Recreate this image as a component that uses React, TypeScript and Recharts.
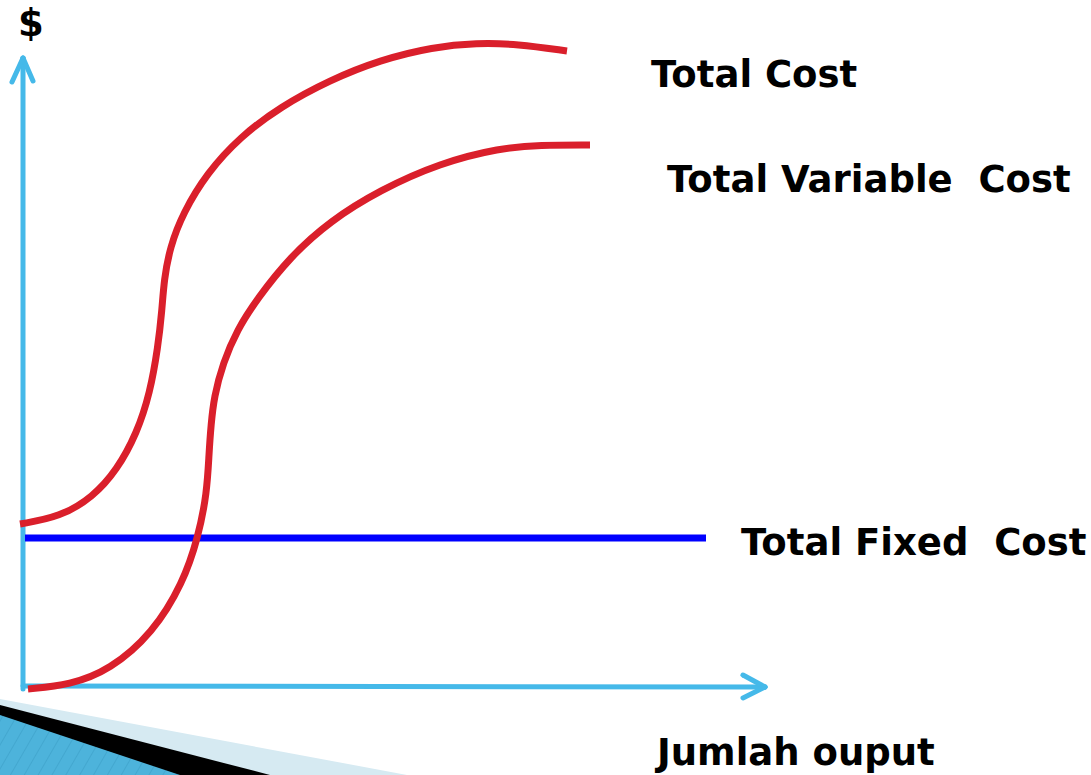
import { LineChart, Line, XAxis, YAxis, ReferenceLine, Customized } from "recharts";

// output (x) and cost ($)
const tcOutput = [-0.3, 3.7, 7.0, 9.4, 11.4, 12.7, 13.5, 13.9, 14.1, 14.7, 16.0, 18.4, 21.7, 25.7, 30.7, 35.7, 41.0, 45.4, 49.4, 54.4];
const tcCost = [16.2, 16.9, 18.9, 21.6, 25.3, 29.3, 33.9, 37.6, 40.6, 43.9, 47.3, 51.3, 54.9, 57.9, 60.6, 62.6, 63.9, 64.3, 64.2, 63.5];

const tvcOutput = [0.5, 4.7, 8.7, 13.0, 16.0, 17.5, 18.4, 18.6, 18.8, 19.1, 20.0, 21.4, 23.4, 26.7, 30.7, 35.7, 41.7, 47.7, 51.7, 56.7];
const tvcCost = [-0.3, 0.1, 1.6, 5.3, 10.3, 14.8, 19.3, 23.3, 26.1, 28.9, 32.3, 35.6, 38.7, 42.9, 46.5, 49.6, 52.3, 53.8, 54.1, 54.1];

const tfcOutput = [0.2, 68.3];
const tfcCost = [14.8, 14.8];

const labels = ["$", "Total Cost", "Total Variable  Cost", "Total Fixed  Cost", "Jumlah ouput"];

const tcData = tcOutput.map((q, i) => ({ q, c: tcCost[i] }));
const tvcData = tvcOutput.map((q, i) => ({ q, c: tvcCost[i] }));
const tfcData = tfcOutput.map((q, i) => ({ q, c: tfcCost[i] }));

const AXIS = "#45B9E9";
const RED = "#DA1F2B";
const FONT = "'DejaVu Sans', Verdana, sans-serif";

function Decor() {
  return (
    <g>
      <defs>
        <pattern id="stripes" width="12" height="12" patternUnits="userSpaceOnUse" patternTransform="rotate(30)">
          <rect width="12" height="12" fill="#4DB3DB" />
          <line x1="0" y1="0" x2="0" y2="12" stroke="#3FA3CB" strokeWidth="1.5" />
        </pattern>
      </defs>
      <polygon points="0,699 407,775 0,775" fill="#D6EAF2" />
      <polygon points="0,705 270,775 0,775" fill="#000" />
      <polygon points="0,715 180,775 0,775" fill="url(#stripes)" />
    </g>
  );
}

function Labels() {
  const pos = [
    [18, 36],
    [651, 87],
    [667, 192],
    [741, 555],
    [657, 765],
  ];
  return (
    <g>
      {labels.map((t, i) => (
        <text
          key={t}
          x={pos[i][0]}
          y={pos[i][1]}
          fontFamily={FONT}
          fontWeight="bold"
          fontSize={37}
          fill="#000"
          style={{ whiteSpace: "pre" }}
        >
          {t}
        </text>
      ))}
    </g>
  );
}

export default function App() {
  return (
    <div style={{ position: "absolute", left: 0, top: 0, width: 1091, height: 775, background: "#fff", overflow: "hidden" }}>
      <LineChart width={1091} height={775} margin={{ top: 0, right: 0, bottom: 0, left: 0 }}>
        <XAxis type="number" dataKey="q" domain={[-2.3, 106.8]} hide allowDataOverflow />
        <YAxis type="number" dataKey="c" domain={[-8.9, 68.6]} hide allowDataOverflow />
        <Customized component={Decor} />
        {/* axes with arrowheads */}
        <ReferenceLine segment={[{ x: 0, y: -0.3 }, { x: 0, y: 62.8 }]} stroke={AXIS} strokeWidth={5} strokeLinecap="round" ifOverflow="visible" />
        <ReferenceLine segment={[{ x: -1.1, y: 60.4 }, { x: 0, y: 62.8 }]} stroke={AXIS} strokeWidth={5} strokeLinecap="round" ifOverflow="visible" />
        <ReferenceLine segment={[{ x: 1.0, y: 60.5 }, { x: 0, y: 62.8 }]} stroke={AXIS} strokeWidth={5} strokeLinecap="round" ifOverflow="visible" />
        <ReferenceLine segment={[{ x: 0, y: 0 }, { x: 74.2, y: -0.1 }]} stroke={AXIS} strokeWidth={5} strokeLinecap="round" ifOverflow="visible" />
        <ReferenceLine segment={[{ x: 72.0, y: 1.1 }, { x: 74.2, y: -0.1 }]} stroke={AXIS} strokeWidth={5} strokeLinecap="round" ifOverflow="visible" />
        <ReferenceLine segment={[{ x: 72.0, y: -1.2 }, { x: 74.2, y: -0.1 }]} stroke={AXIS} strokeWidth={5} strokeLinecap="round" ifOverflow="visible" />
        <Line data={tfcData} dataKey="c" type="linear" stroke="#0000FF" strokeWidth={7} dot={false} activeDot={false} isAnimationActive={false} />
        <Line data={tvcData} dataKey="c" type="basis" stroke={RED} strokeWidth={7} dot={false} activeDot={false} isAnimationActive={false} />
        <Line data={tcData} dataKey="c" type="basis" stroke={RED} strokeWidth={7} dot={false} activeDot={false} isAnimationActive={false} />
        <Customized component={Labels} />
      </LineChart>
    </div>
  );
}
